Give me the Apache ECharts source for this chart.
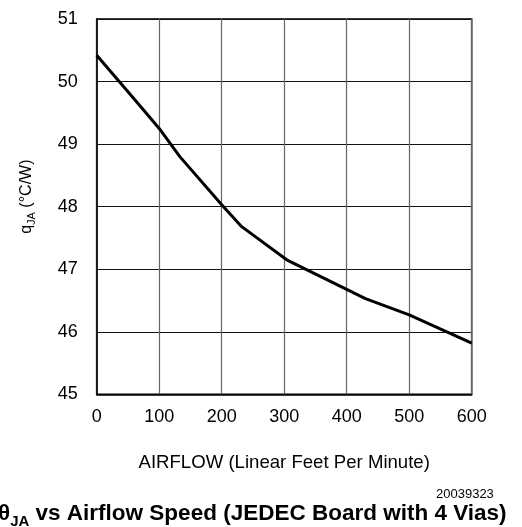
<!DOCTYPE html>
<html>
<head>
<meta charset="utf-8">
<script src="https://cdn.jsdelivr.net/npm/echarts@6/dist/echarts.min.js"></script>
<style>
html,body{margin:0;padding:0;background:#fff;}
#c{width:522px;height:527px;}
</style>
</head>
<body>
<div id="c"></div>
<script>
const airflow = [0, 60, 100, 133, 200, 232, 304, 430, 500, 600];
const thetaJA = [50.42, 49.72, 49.25, 48.80, 48.03, 47.68, 47.15, 46.53, 46.27, 45.82];
const xTicks = [0, 100, 200, 300, 400, 500, 600];
const yTicks = [45, 46, 47, 48, 49, 50, 51];

const FONT = '"Liberation Sans", Arial, sans-serif';
const chart = echarts.init(document.getElementById('c'));
chart.setOption({
  animation: false,
  backgroundColor: '#fff',
  grid: {
    left: 96.7, right: 50.3, top: 19, bottom: 132.7,
    show: true, borderColor: '#000', borderWidth: 1.5, backgroundColor: 'transparent'
  },
  title: [{
    text: '{t|θ}{s|JA}{t| vs Airflow Speed (JEDEC Board with 4 Vias)}',
    left: -7, top: 494,
    textStyle: {
      rich: {
        t: {fontFamily: FONT, fontSize: 22.5, fontWeight: 'bold', color: '#000', lineHeight: 26, verticalAlign: 'bottom'},
        s: {fontFamily: FONT, fontSize: 15, fontWeight: 'bold', color: '#000', lineHeight: 26, verticalAlign: 'bottom', padding: [0, 0, -4, 0]}
      }
    }
  }, {
    text: '20039323',
    left: 431, top: 483,
    textStyle: {fontFamily: FONT, fontSize: 13, fontWeight: 'normal', color: '#000'}
  }],
  xAxis: {
    type: 'value',
    min: xTicks[0], max: xTicks[xTicks.length - 1], interval: 100,
    name: 'AIRFLOW (Linear Feet Per Minute)',
    nameLocation: 'middle', nameGap: 59,
    nameTextStyle: {fontFamily: FONT, fontSize: 18.6, color: '#000'},
    axisLine: {show: true, lineStyle: {color: '#000', width: 1.5}},
    axisTick: {show: false},
    axisLabel: {fontFamily: FONT, fontSize: 18, color: '#000', margin: 14},
    splitLine: {show: true, lineStyle: {color: '#666', width: 1.2}}
  },
  yAxis: {
    type: 'value',
    min: yTicks[0], max: yTicks[yTicks.length - 1], interval: 1,
    name: '{a|q}{s|JA}{a| (°C/W)}',
    nameLocation: 'middle', nameGap: 62, nameRotate: 90,
    nameTextStyle: {
      padding: [0, 0, 0, 20],
      rich: {
        a: {fontFamily: FONT, fontSize: 16, color: '#000', lineHeight: 20, verticalAlign: 'bottom'},
        s: {fontFamily: FONT, fontSize: 11, color: '#000', lineHeight: 20, verticalAlign: 'bottom', padding: [0, 0, -3, 0]}
      }
    },
    axisLine: {show: true, lineStyle: {color: '#000', width: 1.5}},
    axisTick: {show: false},
    axisLabel: {fontFamily: FONT, fontSize: 18, color: '#000', margin: 19},
    splitLine: {show: true, lineStyle: {color: '#111', width: 1.2}}
  },
  series: [{
    type: 'line',
    data: airflow.map((x, i) => [x, thetaJA[i]]),
    showSymbol: false,
    smooth: false,
    lineStyle: {color: '#000', width: 3},
    clip: false
  }]
});
</script>
</body>
</html>
